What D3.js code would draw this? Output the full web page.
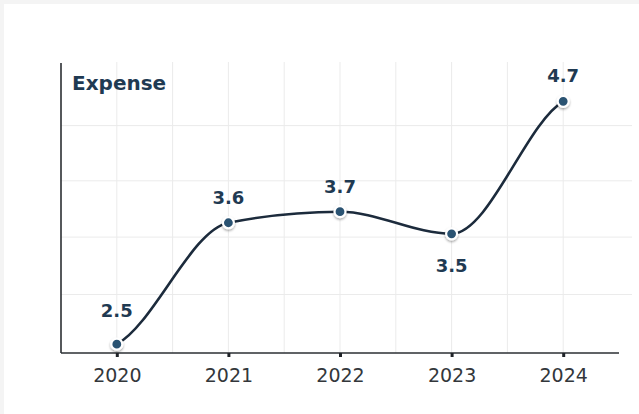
<!DOCTYPE html>
<html>
<head>
<meta charset="utf-8">
<script src="https://d3js.org/d3.v7.min.js"></script>
<style>
  body { margin: 0; background: #f4f4f4; }
  svg { display: block; }
</style>
</head>
<body>
<div id="chart"></div>
<script>
// data
const years = ["2020", "2021", "2022", "2023", "2024"];
const expense = [2.5, 3.6, 3.7, 3.5, 4.7];
const gridValues = [2.95, 3.47, 3.98, 4.48];
const yTitle = "Expense";

const width = 639;
const height = 414;
const margin = { top: 66, right: 20, bottom: 61, left: 61 };

const svg = d3.select("#chart")
  .append("svg")
  .attr("width", width)
  .attr("height", height);

// card
svg.append("rect")
  .attr("x", 4)
  .attr("y", 4)
  .attr("width", width - 4)
  .attr("height", height - 4)
  .attr("fill", "#ffffff");

const defs = svg.append("defs");
const shadow = defs.append("filter")
  .attr("id", "dotShadow")
  .attr("x", "-50%").attr("y", "-50%")
  .attr("width", "200%").attr("height", "200%");
shadow.append("feDropShadow")
  .attr("dx", 0).attr("dy", 1.5)
  .attr("stdDeviation", 1.2)
  .attr("flood-color", "#000")
  .attr("flood-opacity", 0.35);

// scales
const xScale = d3.scalePoint()
  .domain(years)
  .range([margin.left, width - margin.right])
  .padding(0.5);

const yScale = d3.scaleLinear()
  .domain([2.42, 5.02])
  .range([height - margin.bottom, margin.top]);

const x0 = margin.left;
const x1 = width - margin.right;
const yBottom = height - margin.bottom;

// gridlines
const grid = svg.append("g").attr("class", "grid");

grid.selectAll(".hgrid")
  .data(gridValues)
  .join("line")
  .attr("x1", x0)
  .attr("x2", x1 + 13)
  .attr("y1", d => yScale(d))
  .attr("y2", d => yScale(d))
  .attr("stroke", "#ebebeb")
  .attr("stroke-width", 1);

const step = xScale.step();
const vLines = [];
years.forEach(y => {
  vLines.push(xScale(y));
  vLines.push(xScale(y) + step / 2);
});

grid.selectAll(".vgrid")
  .data(vLines.filter(v => v < x1 - 1))
  .join("line")
  .attr("x1", d => d)
  .attr("x2", d => d)
  .attr("y1", margin.top - 4)
  .attr("y2", yBottom)
  .attr("stroke", "#ebebeb")
  .attr("stroke-width", 1);

// axes
svg.append("line")
  .attr("x1", x0)
  .attr("x2", x0)
  .attr("y1", margin.top - 3)
  .attr("y2", yBottom)
  .attr("stroke", "#2b2f33")
  .attr("stroke-width", 1.6);

const xAxis = d3.axisBottom(xScale)
  .tickSize(4)
  .tickPadding(12);

const gx = svg.append("g")
  .attr("transform", `translate(0, ${yBottom})`)
  .call(xAxis);

gx.select(".domain")
  .attr("d", `M${x0},0H${x1}`)
  .attr("stroke", "#2b2f33")
  .attr("stroke-width", 1.6);

gx.selectAll(".tick line")
  .attr("stroke", "#1f2328")
  .attr("stroke-width", 3);

gx.selectAll(".tick text")
  .attr("font-family", "DejaVu Sans, sans-serif")
  .attr("font-size", "19px")
  .attr("fill", "#33373b");

// y title
svg.append("text")
  .attr("x", x0 + 11)
  .attr("y", 90)
  .text(yTitle)
  .attr("font-family", "DejaVu Sans, sans-serif")
  .attr("font-weight", "bold")
  .attr("font-size", "20px")
  .attr("fill", "#1f3a52");

// line: monotone tangents inside, softer tangents at the two ends
const points = years.map((yr, i) => ({ year: yr, value: expense[i] }));
const px = points.map(d => [xScale(d.year), yScale(d.value)]);

function smoothPath(pts) {
  const n = pts.length;
  const s = [];
  for (let i = 0; i < n - 1; i++) {
    s.push((pts[i + 1][1] - pts[i][1]) / (pts[i + 1][0] - pts[i][0]));
  }
  const m = pts.map((p, i) => {
    if (i === 0) return s[0] / 2;
    if (i === n - 1) return s[n - 2] / 2;
    const a = s[i - 1], b = s[i];
    if (a * b <= 0) return 0;
    const avg = (a + b) / 2;
    return Math.sign(a) * Math.min(Math.abs(a) * 2, Math.abs(b) * 2, Math.abs(avg));
  });
  const path = d3.path();
  path.moveTo(pts[0][0], pts[0][1]);
  for (let i = 0; i < n - 1; i++) {
    const h = (pts[i + 1][0] - pts[i][0]) / 3;
    path.bezierCurveTo(
      pts[i][0] + h, pts[i][1] + m[i] * h,
      pts[i + 1][0] - h, pts[i + 1][1] - m[i + 1] * h,
      pts[i + 1][0], pts[i + 1][1]
    );
  }
  return path.toString();
}

svg.append("path")
  .attr("d", smoothPath(px))
  .attr("fill", "none")
  .attr("stroke", "#1c2b3c")
  .attr("stroke-width", 2.6);

// dots
svg.selectAll(".dot")
  .data(points)
  .join("circle")
  .attr("cx", d => xScale(d.year))
  .attr("cy", d => yScale(d.value))
  .attr("r", 5.5)
  .attr("fill", "#2c5272")
  .attr("stroke", "#ffffff")
  .attr("stroke-width", 2.2)
  .attr("filter", "url(#dotShadow)");

// value labels: below for interior dips, above otherwise
const isDip = (i) => i > 0 && i < expense.length - 1 &&
  expense[i] < expense[i - 1] && expense[i] < expense[i + 1];

svg.selectAll(".val")
  .data(points)
  .join("text")
  .attr("x", d => xScale(d.year))
  .attr("y", (d, i) => yScale(d.value) + (isDip(i) ? 38 : (i === 0 ? -27 : -19)))
  .attr("text-anchor", "middle")
  .text(d => d.value.toFixed(1))
  .attr("font-family", "DejaVu Sans, sans-serif")
  .attr("font-weight", "bold")
  .attr("font-size", "18px")
  .attr("fill", "#1f3a52");
</script>
</body>
</html>
